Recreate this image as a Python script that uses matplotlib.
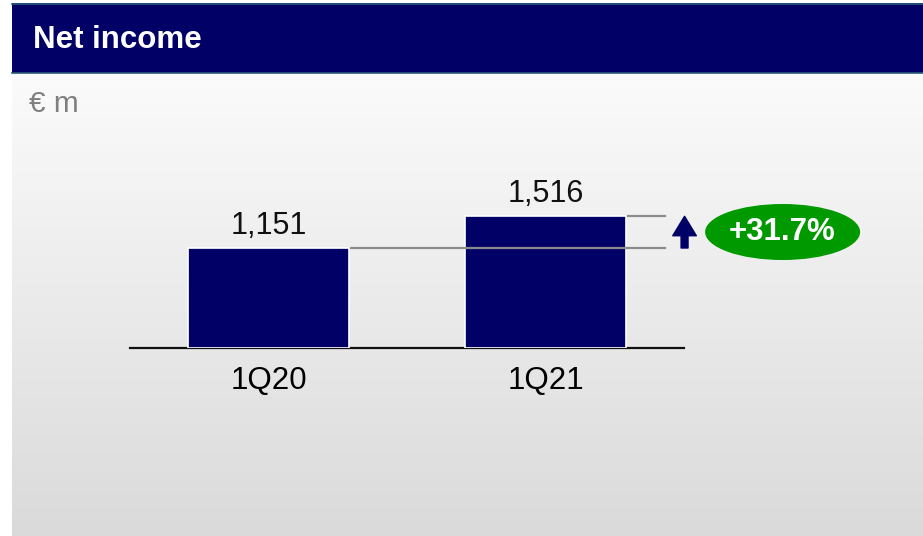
import numpy as np
import matplotlib.pyplot as plt
from matplotlib.colors import LinearSegmentedColormap
from matplotlib.patches import Rectangle, Ellipse, FancyArrowPatch

plt.rcParams['font.family'] = ['Liberation Sans', 'DejaVu Sans']

periods = ['1Q20', '1Q21']
net_income = [1151, 1516]
title = 'Net income'
unit = '€ m'

navy = '#000066'
green = '#009900'
grey_line = '#8c8c8c'

W, H = 923, 536
fig = plt.figure(figsize=(W / 100, H / 100), dpi=100)
fig.patch.set_facecolor('white')

# background panel in pixel coordinates
bg = fig.add_axes([0, 0, 1, 1])
bg.set_xlim(0, W)
bg.set_ylim(H, 0)
bg.axis('off')
grad = np.linspace(0, 1, 256).reshape(-1, 1)
panel_cmap = LinearSegmentedColormap.from_list('panel', ['#fbfbfb', '#dadada'])
bg.imshow(grad, cmap=panel_cmap, extent=(12, W, H, 73), aspect='auto', zorder=0)
bg.add_patch(Rectangle((12, 3), W - 12, 70, facecolor=navy, edgecolor='none', zorder=1))
bg.plot([12, W], [3.5, 3.5], color='#2a5a78', lw=1.2, zorder=2)
bg.plot([12, W], [72.5, 72.5], color='#2a5a78', lw=1.2, zorder=2)
bg.text(33, 40, title, color='white', fontsize=22.5, fontweight='bold', va='center', ha='left')
bg.text(29, 104, unit, color='#7f7f7f', fontsize=21.5, va='center', ha='left')

# bar axes: baseline at y=348px, x from 130 to 684px
px_per_unit = 100 / 1151
ax_h = 188
ax = fig.add_axes([130 / W, (H - 348) / H, 554 / W, ax_h / H])
ax.patch.set_alpha(0)
x = np.arange(len(periods))
bw = 0.578
ax.bar(x, net_income, width=bw, color=navy, edgecolor='white', linewidth=1.2, zorder=3)
ax.set_xlim(-0.5, 1.5)
ax.set_ylim(0, ax_h / px_per_unit)
for s in ['top', 'right', 'left']:
    ax.spines[s].set_visible(False)
ax.spines['bottom'].set_linewidth(1.6)
ax.spines['bottom'].set_color('#111111')
ax.set_yticks([])
ax.set_xticks(x)
ax.set_xticklabels(periods, fontsize=22.5)
ax.tick_params(axis='x', length=0, pad=13)

for xi, v in zip(x, net_income):
    ax.annotate(f'{v:,}', (xi, v), xytext=(0, 5), textcoords='offset points',
                ha='center', va='bottom', fontsize=22, color='#111111')

# growth markers: reference lines at both values, arrow and badge
x_end = 1.433
ax.plot([x[0] + bw / 2 + 0.01, x_end], [net_income[0]] * 2, color=grey_line, lw=1.6,
        zorder=4, clip_on=False)
ax.plot([x[1] + bw / 2 + 0.01, x_end], [net_income[1]] * 2, color=grey_line, lw=1.6,
        zorder=4, clip_on=False)
x_arrow = 1.502
arrow = FancyArrowPatch((x_arrow, net_income[0]), (x_arrow, net_income[1]),
                        arrowstyle='simple,head_width=17,head_length=14,tail_width=5',
                        color=navy, shrinkA=0, shrinkB=0, clip_on=False, zorder=4)
ax.add_patch(arrow)

growth = (net_income[1] / net_income[0] - 1) * 100
ex, ey = 1.856, (348 - 232) / px_per_unit
ax.add_patch(Ellipse((ex, ey), 155 / 277, 56 / px_per_unit, facecolor=green,
                     edgecolor='none', clip_on=False, zorder=4))
ax.text(ex, ey, f'+{growth:.1f}%', color='white', fontsize=22.5, fontweight='bold',
        ha='center', va='center', zorder=5)

fig.savefig('out.png', dpi=100)
